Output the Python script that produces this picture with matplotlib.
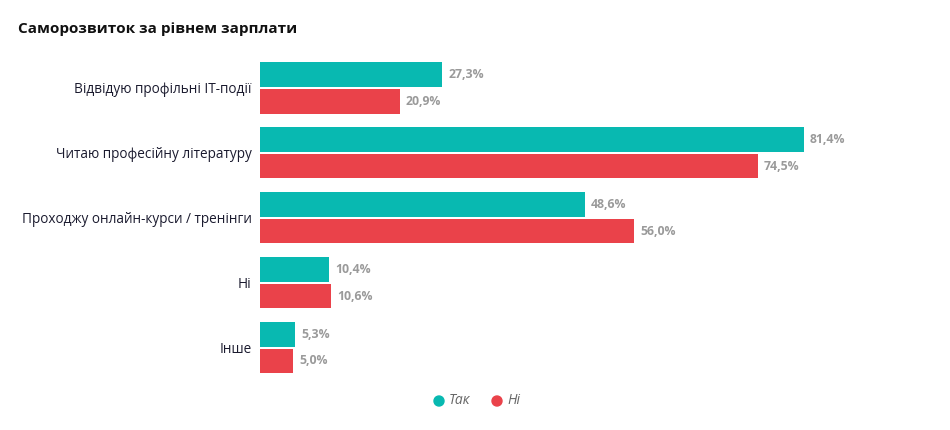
import matplotlib
matplotlib.use("Agg")
from matplotlib import pyplot as plt
import numpy as np

# data
categories = ["Відвідую профільні IT-події", "Читаю професійну літературу",
              "Проходжу онлайн-курси / тренінги", "Ні", "Інше"]
tak = [27.3, 81.4, 48.6, 10.4, 5.3]
ni = [20.9, 74.5, 56.0, 10.6, 5.0]
series_names = ["Так", "Ні"]

teal = "#08b9b1"
red = "#ea424a"

plt.rcParams['font.family'] = ['Open Sans', 'DejaVu Sans']

fig = plt.figure(figsize=(9.5, 4.3), dpi=100)
ax = fig.add_axes([260 / 950, 1 - 380.2 / 430, 668 / 950, 324.7 / 430])

y = np.arange(len(categories))
h = 0.38
off = 0.204
ax.barh(y - off, tak, height=h, color=teal)
ax.barh(y + off, ni, height=h, color=red)

ax.set_xlim(0, 100)
ax.set_ylim(4.5, -0.5)
ax.set_xticks([])
ax.set_yticks(y)
ax.set_yticklabels(categories, fontsize=9.8, color="#1b1b2f")
ax.tick_params(axis="y", length=0, pad=6)
for s in ax.spines.values():
    s.set_visible(False)

for i in range(len(categories)):
    ax.annotate(f"{tak[i]:.1f}%".replace(".", ","), (tak[i], i - off),
                xytext=(4.5, 0), textcoords="offset points", va="center",
                fontsize=8.8, fontweight="bold", color="#9a9a9a")
    ax.annotate(f"{ni[i]:.1f}%".replace(".", ","), (ni[i], i + off),
                xytext=(4.5, 0), textcoords="offset points", va="center",
                fontsize=8.8, fontweight="bold", color="#9a9a9a")

fig.text(18 / 950, 1 - 29 / 430, "Саморозвиток за рівнем зарплати",
         fontsize=11, fontweight="bold", color="#111111", va="center")

# legend
ly = 1 - 401 / 430
fig.patches.append(matplotlib.patches.Ellipse((439 / 950, ly), 10 / 950, 10 / 430,
                                              transform=fig.transFigure, color=teal))
fig.text(449 / 950, ly, series_names[0], fontsize=10, style="italic",
         color="#666666", va="center")
fig.patches.append(matplotlib.patches.Ellipse((497 / 950, ly), 10 / 950, 10 / 430,
                                              transform=fig.transFigure, color=red))
fig.text(507 / 950, ly, series_names[1], fontsize=10, style="italic",
         color="#666666", va="center")

fig.savefig("out.png", dpi=100)
